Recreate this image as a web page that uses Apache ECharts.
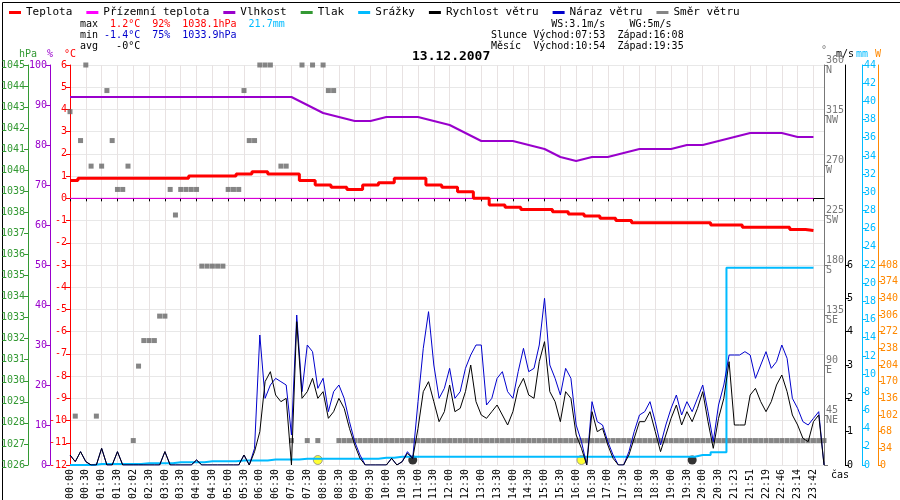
<!DOCTYPE html>
<html><head><meta charset="utf-8">
<script src="https://cdn.jsdelivr.net/npm/echarts@6/dist/echarts.min.js"></script>
<style>html,body{margin:0;background:#fff}#c{width:900px;height:500px}</style>
</head><body><div id="c"></div>
<script>
const timeLabels=['00:00','00:30','01:00','01:30','02:02','02:30','03:00','03:30','04:00','04:30','05:00','05:30','06:00','06:30','07:00','07:30','08:00','08:30','09:00','09:30','10:00','10:30','11:00','11:30','12:00','12:30','13:00','13:30','14:00','14:30','15:00','15:30','16:00','16:30','17:00','17:30','18:00','18:30','19:00','19:30','20:00','20:30','21:23','21:51','22:19','22:46','23:14','23:42'];
const tempHalfHour=[0.8,0.9,0.9,0.9,0.9,0.9,0.9,0.9,1.0,1.0,1.0,1.1,1.2,1.1,1.1,0.8,0.6,0.5,0.4,0.6,0.7,0.9,0.9,0.6,0.5,0.3,0.0,-0.3,-0.4,-0.5,-0.5,-0.6,-0.7,-0.8,-0.9,-1.0,-1.1,-1.1,-1.1,-1.1,-1.1,-1.2,-1.2,-1.3,-1.3,-1.3,-1.4,-1.45];
const feelHalfHour=[0,0,0,0,0,0,0,0,0,0,0,0,0,0,0,0,0,0,0,0,0,0,0,0,0,0,0,0,0,0,0,0,0,0,0,0,0,0,0,0,0,0,0,0,0,0,0,0];
const humHalfHour=[92,92,92,92,92,92,92,92,92,92,92,92,92,92,92,90,88,87,86,86,87,87,87,86,85,83,81,81,81,80,79,77,76,77,77,78,79,79,79,80,80,81,82,83,83,83,82,82];
const rainHalfHour=[0,0,0.1,0.1,0.1,0.2, 0.2,0.3,0.3,0.4,0.4,0.5, 0.5,0.6,0.6,0.7,0.7,0.7, 0.7,0.7,0.8,0.9,0.9,0.9, 0.9,0.9,0.9,0.9,0.9,0.9, 0.9,0.9,0.9,0.9,0.9,0.9, 0.9,0.9,0.9,0.9,1.1,1.4, 21.7,21.7,21.7,21.7,21.7,21.7];
const speed10=[0.3,0.1,0.4,0.1,0,0, 0.5,0,0,0.4,0,0, 0,0,0,0,0,0, 0.4,0,0,0,0,0, 0.15,0,0,0,0,0, 0,0,0,0.3,0,0.4,
 1.0,2.5,2.8,2.1,1.9,2.0, 0,4.3,2.0,2.2,2.6,2.0, 2.2,1.4,1.6,2.0,1.7,1.1, 0.6,0.2,0,0,0,0, 0,0.2,0,0.1,0.35,0.2, 1.1,2.2,2.5,1.9,1.3,1.6,
 2.4,1.6,1.7,2.2,3.0,1.9, 1.5,1.4,1.6,1.8,1.5,1.2, 1.6,2.3,2.6,2.1,2.0,3.1, 3.7,2.2,1.9,1.3,2.2,2.0, 0.9,0.5,0,1.6,1.0,1.1, 0.6,0.2,0,0,0.3,0.8,
 1.3,1.3,1.6,1.0,0.4,0.9, 1.4,1.8,1.2,1.6,1.3,1.7, 2.2,1.3,0.5,1.4,2.0,3.1, 1.2,1.2,1.2,2.1,2.3,1.9, 1.6,1.9,2.4,2.7,2.2,1.5, 1.2,0.8,0.7,1.3,1.5,0];
const gust10=[0.3,0.1,0.4,0.1,0,0, 0.5,0,0,0.4,0,0, 0,0,0,0,0,0, 0.4,0,0,0,0,0, 0.15,0,0,0,0,0, 0,0,0,0.3,0,0.5,
 3.9,2.0,2.4,2.6,2.5,2.4, 0.9,4.5,2.2,3.6,3.4,2.3, 2.6,1.6,2.2,2.4,2.0,1.3, 0.7,0.3,0,0,0,0, 0,0.2,0,0.1,0.4,0.2, 1.9,3.5,4.6,3.0,2.0,2.3,
 2.9,2.0,2.2,2.9,3.3,3.6, 3.6,1.8,2.0,2.6,2.8,2.2, 2.0,2.8,3.5,2.8,2.9,3.6, 5.0,3.0,2.6,2.1,2.9,2.6, 1.2,0.7,0,1.9,1.3,1.2, 0.7,0.3,0,0,0.4,1.0,
 1.5,1.6,1.9,1.3,0.6,1.2, 1.7,2.1,1.5,1.9,1.6,2.0, 2.4,1.6,0.7,1.8,2.4,3.3, 3.3,3.3,3.4,3.3,2.6,3.0, 3.4,2.9,3.1,3.6,3.2,2.0, 1.7,1.3,1.2,1.4,1.6,0];
const dir10=[318,44,292,360,269,44, 269,337,292,248,248,269, 22,89,112,112,112,134, 134,248,225,248,248,248, 248,179,179,179,179,179, 248,248,248,337,292,292,
 360,360,360,null,269,269, 22,null,360,22,360,22, 360,337,337,22,22,22, 22,22,22,22,22,22, 22,22,22,22,22,22, 22,22,22,22,22,22,
 22,22,22,22,22,22, 22,22,22,22,22,22, 22,22,22,22,22,22, 22,22,22,22,22,22, 22,22,22,22,22,22, 22,22,22,22,22,22,
 22,22,22,22,22,22, 22,22,22,22,22,22, 22,22,22,22,22,22, 22,22,22,22,22,22, 22,22,22,22,22,22, 22,22,22,22,22,22];
const sunEvents=[47,97];
const moonEvents=[65,118];

const cats=[];for(let i=0;i<144;i++){cats.push(String(Math.floor(i/6)).padStart(2,'0')+':'+String(i%6*10).padStart(2,'0'));}
const half=a=>a.map((v,i)=>[i*3,v]);
const F='DejaVu Sans Mono';
const chart=echarts.init(document.getElementById('c'));
function yAx(o){return Object.assign({type:'value',splitLine:{show:false},axisTick:{show:true,length:4},axisLine:{show:true},
 nameGap:6,nameTextStyle:{fontFamily:F,fontSize:10},axisLabel:{fontFamily:F,fontSize:10,margin:2}},o);}
chart.setOption({
 animation:false,
 grid:{left:70,right:76,top:65,bottom:35,outerBoundsMode:'none',containLabel:false},
 legend:{top:2,left:4,itemWidth:12,itemHeight:3,itemGap:14,icon:'rect',textStyle:{fontFamily:F,fontSize:11,color:'#000'},
  data:['Teplota','Přízemní teplota','Vlhkost','Tlak','Srážky','Rychlost větru','Náraz větru','Směr větru']},
 xAxis:{type:'category',data:cats,boundaryGap:false,
  axisLine:{lineStyle:{color:'#000'}},axisTick:{interval:2,length:3},
  axisLabel:{interval:2,rotate:90,fontFamily:F,fontSize:10,color:'#000',margin:4,formatter:(v,i)=>timeLabels[i/3]||''},
  splitLine:{show:true,interval:2,lineStyle:{color:'#e8e2e2'}}},
 yAxis:[
  yAx({min:-12,max:6,interval:1,position:'left',offset:0,name:'°C',axisLine:{show:true,lineStyle:{color:'#f00'}},axisLabel:{fontFamily:F,fontSize:10,color:'#f00',margin:3},splitLine:{show:true,lineStyle:{color:'#e8e8e8'}}}),
  yAx({min:0,max:100,interval:10,position:'left',offset:20,name:'%',axisLine:{show:true,lineStyle:{color:'#90c'}},axisLabel:{fontFamily:F,fontSize:10,color:'#90c',margin:3}}),
  yAx({min:1026,max:1045,interval:1,position:'left',offset:42,name:'hPa',axisLine:{show:true,lineStyle:{color:'#393'}},axisLabel:{fontFamily:F,fontSize:10,color:'#393',margin:3,formatter:v=>String(v)}}),
  yAx({min:0,max:360,interval:45,position:'right',offset:0,name:'°',axisLine:{show:true,lineStyle:{color:'#777'}},
   axisLabel:{fontFamily:F,fontSize:10,color:'#777',margin:2,lineHeight:10,formatter:v=>v===0?'':v+'\n'+({45:'NE',90:'E',135:'SE',180:'S',225:'SW',270:'W',315:'NW',360:'N'}[v])}}),
  yAx({min:0,max:12,interval:1,position:'right',offset:21,name:'m/s',axisLine:{show:true,lineStyle:{color:'#000'}},
   axisTick:{show:true,length:4,customValues:[0,1,2,3,4,5,6]},axisLabel:{fontFamily:F,fontSize:10,color:'#000',margin:2,customValues:[0,1,2,3,4,5,6]}}),
  yAx({min:0,max:44,interval:2,position:'right',offset:38,name:'mm',axisLine:{show:true,lineStyle:{color:'#0bf'}},axisLabel:{fontFamily:F,fontSize:10,color:'#0bf',margin:2}}),
  yAx({min:0,max:816,interval:34,position:'right',offset:54,name:'W',axisLine:{show:true,lineStyle:{color:'#f80'}},
   axisTick:{show:true,length:4,customValues:[0,34,68,102,136,170,204,238,272,306,340,374,408]},
   axisLabel:{fontFamily:F,fontSize:10,color:'#f80',margin:2,customValues:[0,34,68,102,136,170,204,238,272,306,340,374,408]}})
 ],
 series:[
  {name:'Přízemní teplota',type:'line',yAxisIndex:0,data:half(feelHalfHour),symbol:'none',connectNulls:true,lineStyle:{color:'#f0f',width:1},itemStyle:{color:'#f0f'}},
  {name:'Teplota',type:'line',yAxisIndex:0,data:half(tempHalfHour),step:'middle',symbol:'none',lineStyle:{color:'#f00',width:3},itemStyle:{color:'#f00'}},
  {name:'Vlhkost',type:'line',yAxisIndex:1,data:half(humHalfHour),symbol:'none',lineStyle:{color:'#90c',width:2},itemStyle:{color:'#90c'}},
  {name:'Tlak',type:'line',yAxisIndex:2,data:[],itemStyle:{color:'#393'}},
  {name:'Srážky',type:'line',yAxisIndex:5,data:half(rainHalfHour),step:'middle',symbol:'none',lineStyle:{color:'#0bf',width:2},itemStyle:{color:'#0bf'}},
  {name:'Směr větru',type:'scatter',yAxisIndex:3,data:dir10,symbol:'rect',symbolSize:5,itemStyle:{color:'#666'}},
  {name:'Náraz větru',type:'line',yAxisIndex:4,data:gust10,symbol:'none',lineStyle:{color:'#00c',width:1},itemStyle:{color:'#00c'}},
  {name:'Rychlost větru',type:'line',yAxisIndex:4,data:speed10,symbol:'none',lineStyle:{color:'#000',width:1},itemStyle:{color:'#000'}},
  {type:'scatter',yAxisIndex:4,data:sunEvents.map(i=>[i,0.15]),symbolSize:9,itemStyle:{color:'#ff0',borderColor:'#888',borderWidth:1}},
  {type:'scatter',yAxisIndex:4,data:moonEvents.map(i=>[i,0.15]),symbolSize:9,itemStyle:{color:'#000'}}
 ],
 graphic:[
  {type:'text',left:80,top:19,style:{fontFamily:F,fontSize:10,lineHeight:11,rich:{k:{fill:'#000',fontFamily:F,fontSize:10},r:{fill:'#f00',fontFamily:F,fontSize:10},b:{fill:'#00c',fontFamily:F,fontSize:10},c:{fill:'#0bf',fontFamily:F,fontSize:10}},
   text:'{k|max  }{r|1.2°C  92%  1038.1hPa}  {c|21.7mm}\n{k|min }{b|-1.4°C  75%  1033.9hPa}\n{k|avg   -0°C}'}},
  {type:'text',left:491,top:19,style:{fontFamily:F,fontSize:10,lineHeight:11,fill:'#000',
   text:'          WS:3.1m/s    WG:5m/s\nSlunce Východ:07:53  Západ:16:08\nMěsíc  Východ:10:54  Západ:19:35'}},
  {type:'text',left:412,top:50,style:{fontFamily:F,fontSize:13,fontWeight:'bold',fill:'#000',text:'13.12.2007'}},
  {type:'text',left:831,top:470,style:{fontFamily:F,fontSize:10,fill:'#000',text:'čas'}},
  {type:'rect',left:0,top:0,shape:{width:899,height:499},style:{fill:'none',stroke:'#000',lineWidth:1}}
 ]
});
</script></body></html>
